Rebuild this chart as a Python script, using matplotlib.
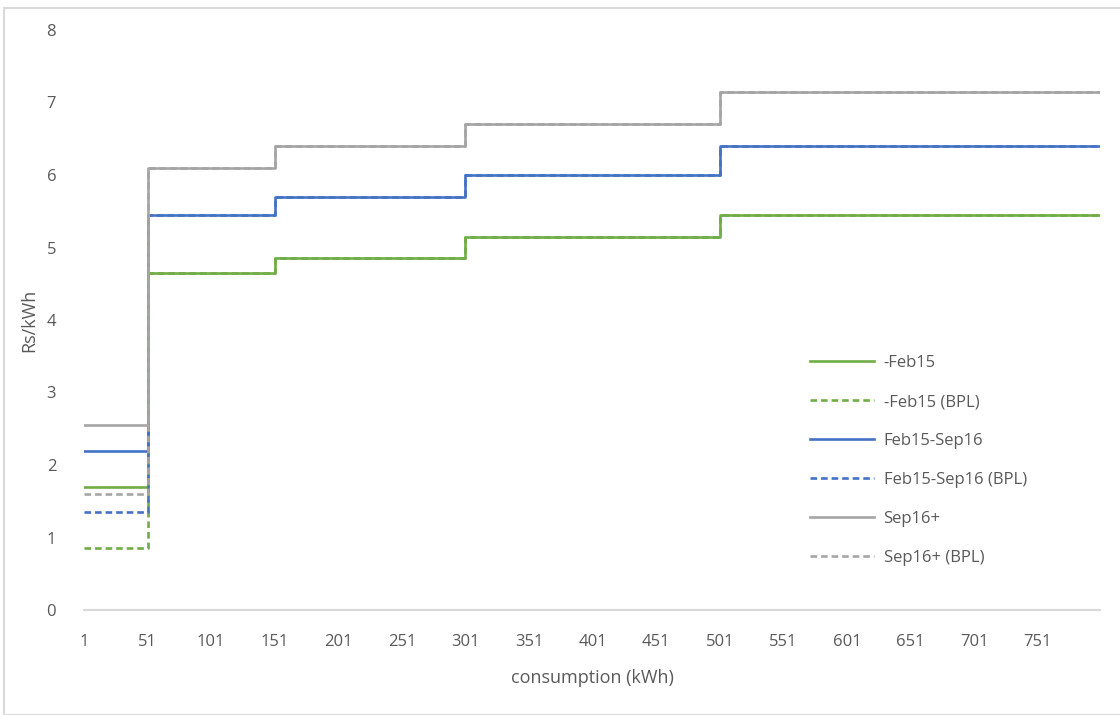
import numpy as np
import matplotlib.pyplot as plt
from matplotlib.patches import Rectangle

plt.rcParams['font.family'] = ['Open Sans', 'DejaVu Sans']

# tier start points (kWh), last value is the end of the axis
tier_starts = [1, 51, 151, 301, 501, 800]

feb15 = [1.70, 4.65, 4.85, 5.15, 5.45]
feb15_bpl = [0.85, 4.65, 4.85, 5.15, 5.45]
feb15_sep16 = [2.20, 5.45, 5.70, 6.00, 6.40]
feb15_sep16_bpl = [1.35, 5.45, 5.70, 6.00, 6.40]
sep16 = [2.55, 6.10, 6.40, 6.70, 7.15]
sep16_bpl = [1.60, 6.10, 6.40, 6.70, 7.15]

labels = ['-Feb15', '-Feb15 (BPL)', 'Feb15-Sep16', 'Feb15-Sep16 (BPL)', 'Sep16+', 'Sep16+ (BPL)']
series = [feb15, feb15_bpl, feb15_sep16, feb15_sep16_bpl, sep16, sep16_bpl]
colors = ['#70AD47', '#70AD47', '#4472C4', '#4472C4', '#A5A5A5', '#A5A5A5']
styles = ['-', '--', '-', '--', '-', '--']

x_ticks = list(range(1, 752, 50))

fig = plt.figure(figsize=(11.2, 7.15), dpi=100)
ax = fig.add_axes([84 / 1120, 1 - 610 / 715, (1100 - 84) / 1120, (610 - 30) / 715])

for vals, lab, col, ls in zip(series, labels, colors, styles):
    ax.step(tier_starts, vals + [vals[-1]], where='post', color=col, linestyle=ls,
            linewidth=1.9, label=lab, dashes=(2.5, 1.5) if ls == '--' else (None, None))

ax.set_xlim(1, 800)
ax.set_ylim(0, 8)
ax.set_xticks(x_ticks)
ax.set_yticks(range(0, 9))
ax.tick_params(length=0, labelsize=12, colors='#595959')
ax.tick_params(axis='x', pad=17)
ax.tick_params(axis='y', pad=20)
for s in ['top', 'right', 'left']:
    ax.spines[s].set_visible(False)
ax.spines['bottom'].set_color('#D9D9D9')
ax.spines['bottom'].set_linewidth(1.5)

ax.set_xlabel('consumption (kWh)', fontsize=13, color='#595959', labelpad=14)
ax.set_ylabel('Rs/kWh', fontsize=13, color='#595959', labelpad=6)

leg = ax.legend(loc='upper left', bbox_to_anchor=(0.70, 0.465), frameon=False,
                fontsize=12, labelcolor='#595959', handlelength=3.8,
                labelspacing=1.38, handletextpad=0.6)

# chart border like the Excel frame
fig.patches.append(Rectangle((4 / 1120, 0), 1.2, 1 - 8 / 715, transform=fig.transFigure,
                             fill=False, edgecolor='#D9D9D9', linewidth=1.5))

fig.savefig('out.png', dpi=100)
